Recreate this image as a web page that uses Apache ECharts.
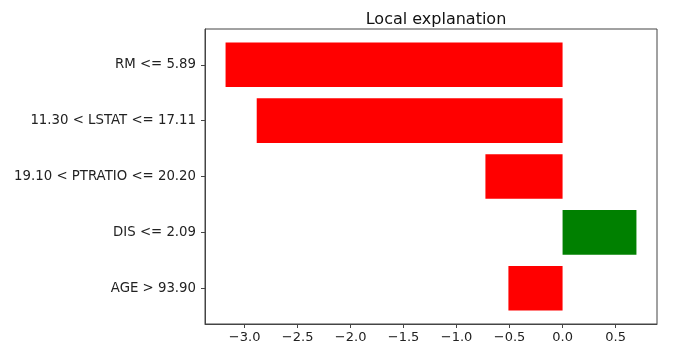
<!DOCTYPE html>
<html>
<head>
<meta charset="utf-8">
<script src="https://cdn.jsdelivr.net/npm/echarts@6/dist/echarts.min.js"></script>
<style>
  html, body { margin: 0; padding: 0; background: #fff; }
  #chart { width: 679px; height: 355px; }
</style>
</head>
<body>
<div id="chart"></div>
<script>
// feature conditions, top to bottom
const features = ['RM <= 5.89', '11.30 < LSTAT <= 17.11', '19.10 < PTRATIO <= 20.20', 'DIS <= 2.09', 'AGE > 93.90']
const weights = [-3.18, -2.886, -0.728, 0.697, -0.511]
const xTicks = [-3.0, -2.5, -2.0, -1.5, -1.0, -0.5, 0.0, 0.5]
const xMin = -3.374
const xMax = 0.891

const chart = echarts.init(document.getElementById('chart'), null, { renderer: 'canvas' })

const font = 'DejaVu Sans'
const fmt = v => (v < 0 ? '\u2212' : '') + Math.abs(v).toFixed(1)
const yIdx = features.map((f, i) => i)
const barHalf = 0.4

const option = {
  animation: false,
  title: {
    text: 'Local explanation',
    left: 431,
    top: 7,
    textAlign: 'center',
    textStyle: { fontFamily: font, fontSize: 16, fontWeight: 'normal', color: '#111' }
  },
  grid: {
    left: 205, right: 22, top: 29, bottom: 31,
    show: true, borderColor: '#444', borderWidth: 1, backgroundColor: 'transparent'
  },
  xAxis: {
    type: 'value', min: xMin, max: xMax,
    axisLine: { show: true, onZero: false, lineStyle: { color: '#444' } },
    splitLine: { show: false },
    axisTick: { show: true, length: 4, lineStyle: { color: '#444' }, customValues: xTicks },
    axisLabel: {
      margin: 7, fontFamily: font, fontSize: 13, color: '#222',
      customValues: xTicks, formatter: fmt
    }
  },
  yAxis: {
    type: 'value', min: -0.64, max: features.length - 1 + 0.64, inverse: true,
    position: 'left',
    axisLine: { show: true, onZero: false, lineStyle: { color: '#444' } },
    splitLine: { show: false },
    axisTick: { show: true, inside: false, length: 4, lineStyle: { color: '#444', width: 1 }, customValues: yIdx },
    axisLabel: {
      margin: 9, fontFamily: font, fontSize: 13.3, color: '#222',
      customValues: yIdx, formatter: v => features[Math.round(v)]
    }
  },
  series: [
    {
      type: 'custom',
      data: weights.map((w, i) => [w, i]),
      encode: { x: 0, y: 1 },
      renderItem: function (params, api) {
        const v = api.value(0)
        const i = api.value(1)
        const p0 = api.coord([0, i - barHalf])
        const p1 = api.coord([v, i + barHalf])
        return {
          type: 'rect',
          shape: {
            x: Math.min(p0[0], p1[0]),
            y: Math.min(p0[1], p1[1]),
            width: Math.abs(p1[0] - p0[0]),
            height: Math.abs(p1[1] - p0[1])
          },
          style: { fill: v > 0 ? '#008000' : '#ff0000' }
        }
      }
    }
  ]
}

chart.setOption(option)
</script>
</body>
</html>
